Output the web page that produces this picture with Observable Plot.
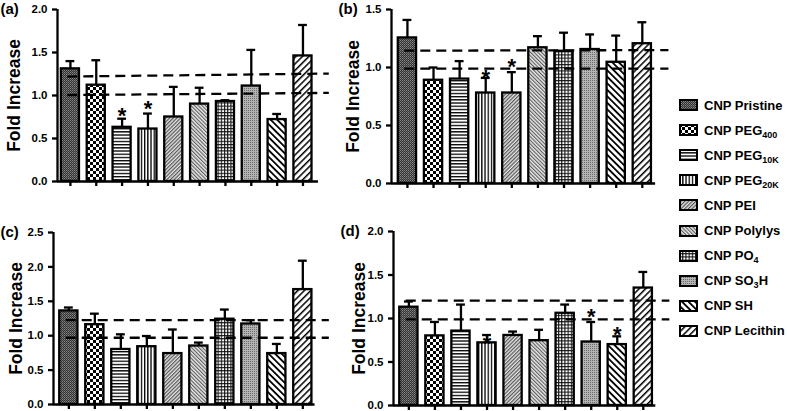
<!DOCTYPE html>
<html><head><meta charset="utf-8">
<script src="https://cdn.jsdelivr.net/npm/d3@7"></script>
<script src="https://cdn.jsdelivr.net/npm/@observablehq/plot@0.6"></script>
<style>
body{margin:0;background:#fff;}
#root{position:relative;width:787px;height:411px;overflow:hidden;font-family:"Liberation Sans",Arial,sans-serif;font-weight:bold;color:#000;}
#root svg.panel{position:absolute;overflow:visible;}
.leg{position:absolute;left:679px;height:16px;display:flex;align-items:center;font-size:13px;white-space:nowrap;}
.leg svg{margin-right:6px;flex:none;}
.leg sub{font-size:9px;vertical-align:-3px;line-height:0;}
</style></head>
<body><div id="root"></div>
<script>
// ---------- data ----------
const names = ["CNP Pristine","CNP PEG<sub>400</sub>","CNP PEG<sub>10K</sub>","CNP PEG<sub>20K</sub>","CNP PEI","CNP Polylys","CNP PO<sub>4</sub>","CNP SO<sub>3</sub>H","CNP SH","CNP Lecithin"];
const panelLabels = ["(a)","(b)","(c)","(d)"];
const yLabel = "Fold Increase";

const aVals = [1.31,1.12,0.63,0.61,0.75,0.90,0.93,1.11,0.72,1.46];
const aErr  = [1.40,1.41,0.73,0.79,1.10,1.09,0.945,1.53,0.785,1.82];
const aDash = [{y1:1.22,y2:1.255},{y1:1.005,y2:1.03}];
const aStars = [{bar:3,y:0.83},{bar:4,y:0.91}];
const aTicks = [0,0.5,1.0,1.5,2.0];

const bVals = [1.255,0.89,0.90,0.78,0.78,1.17,1.14,1.155,1.045,1.205];
const bErr  = [1.41,1.00,1.055,0.91,0.96,1.27,1.30,1.285,1.275,1.39];
const bDash = [{y1:1.145,y2:1.15},{y1:0.99,y2:0.99}];
const bStars = [{bar:4,y:0.96},{bar:5,y:1.06}];
const bTicks = [0,0.5,1.0,1.5];

const cVals = [1.36,1.16,0.80,0.84,0.74,0.85,1.24,1.17,0.74,1.67];
const cErr  = [1.41,1.32,1.02,0.995,1.09,0.90,1.38,1.225,0.88,2.09];
const cDash = [{y1:1.225,y2:1.225},{y1:0.97,y2:0.97}];
const cStars = [];
const cTicks = [0,0.5,1.0,1.5,2.0,2.5];

const dVals = [1.13,0.80,0.855,0.72,0.805,0.745,1.06,0.73,0.70,1.35];
const dErr  = [1.195,0.96,1.16,0.81,0.85,0.87,1.16,0.96,0.795,1.535];
const dDash = [{y1:1.205,y2:1.205},{y1:0.99,y2:0.99}];
const dStars = [{bar:4,y:0.78},{bar:8,y:1.09},{bar:9,y:0.88}];
const dTicks = [0,0.5,1.0,1.5,2.0];

// ---------- patterns ----------
const FONT = '"Liberation Sans", Arial, sans-serif';
const SW = 2.3;
const defs = `
<svg width="0" height="0" style="position:absolute"><defs>
<pattern id="p1" patternUnits="userSpaceOnUse" width="2" height="2"><rect width="2" height="2" fill="#333"/><rect width="1" height="1" fill="#888"/><rect x="1" y="1" width="1" height="1" fill="#666"/></pattern>
<pattern id="p2" patternUnits="userSpaceOnUse" width="6" height="6"><rect width="6" height="6" fill="#fff"/><rect width="3" height="3" fill="#000"/><rect x="3" y="3" width="3" height="3" fill="#000"/></pattern>
<pattern id="p3" patternUnits="userSpaceOnUse" width="4" height="3.2"><rect width="4" height="3.2" fill="#fff"/><rect width="4" height="1.3" fill="#000"/></pattern>
<pattern id="p4" patternUnits="userSpaceOnUse" width="3.2" height="4"><rect width="3.2" height="4" fill="#fff"/><rect width="1.3" height="4" fill="#000"/></pattern>
<pattern id="p5" patternUnits="userSpaceOnUse" width="2.6" height="4" patternTransform="rotate(45)"><rect width="2.6" height="4" fill="#e4e4e4"/><rect width="1.2" height="4" fill="#555"/></pattern>
<pattern id="p6" patternUnits="userSpaceOnUse" width="2.6" height="4" patternTransform="rotate(-45)"><rect width="2.6" height="4" fill="#e8e8e8"/><rect width="1.1" height="4" fill="#5c5c5c"/></pattern>
<pattern id="p7" patternUnits="userSpaceOnUse" width="3.2" height="3.2"><rect width="3.2" height="3.2" fill="#fff"/><rect width="1.1" height="3.2" fill="#111"/><rect width="3.2" height="1.1" fill="#111"/></pattern>
<pattern id="p8" patternUnits="userSpaceOnUse" width="2" height="2"><rect width="2" height="2" fill="#b4b4b4"/><rect width="1" height="1" fill="#6a6a6a"/></pattern>
<pattern id="p9" patternUnits="userSpaceOnUse" width="4.6" height="6" patternTransform="rotate(-45)"><rect width="4.6" height="6" fill="#fff"/><rect width="1.8" height="6" fill="#000"/></pattern>
<pattern id="p10" patternUnits="userSpaceOnUse" width="4.6" height="6" patternTransform="rotate(45)"><rect width="4.6" height="6" fill="#fff"/><rect width="1.5" height="6" fill="#000"/></pattern>
</defs></svg>`;
const root = document.getElementById("root");
root.insertAdjacentHTML("beforeend", defs);

// ---------- panels ----------
function panel(o) {
  const data = o.vals.map((v, k) => ({i: k + 1, v, hi: o.err[k]}));
  const plotW = (o.xd[1] - o.xd[0]) * o.step;
  const svg = Plot.plot({
    width: o.ml + plotW + 16,
    height: o.mt + o.ph + 12,
    marginLeft: o.ml, marginTop: o.mt, marginRight: 16, marginBottom: 12,
    x: {domain: o.xd, axis: null},
    y: {domain: [0, o.ticks[o.ticks.length - 1]], axis: null},
    color: {type: "identity"},
    style: {fontFamily: FONT, fontWeight: "bold", fontSize: "11px", background: "transparent", overflow: "visible", color: "#000"},
    marks: [
      Plot.rect(data, {x1: d => d.i - 0.35, x2: d => d.i + 0.35, y1: 0, y2: "v", fill: d => `url(#p${d.i})`, stroke: "#000", strokeWidth: SW}),
      Plot.ruleX(data, {x: "i", y1: "v", y2: "hi", stroke: "#000", strokeWidth: SW}),
      Plot.ruleY(data, {y: "hi", x1: d => d.i - 0.17, x2: d => d.i + 0.17, stroke: "#000", strokeWidth: SW}),
      Plot.link(o.dash, {x1: () => 0.88, x2: () => 11.0, y1: "y1", y2: "y2", stroke: "#000", strokeWidth: SW, strokeDasharray: "10,6"}),
      Plot.text(o.stars, {x: "bar", y: "y", text: () => "*", fontSize: 22, fontWeight: "bold", dy: 6}),
      Plot.axisY({ticks: o.ticks, tickFormat: d3.format(".1f"), tickSize: 5, tickPadding: 5, strokeWidth: SW, label: null, fontWeight: "bold", fontSize: 11.5}),
      Plot.axisX({ticks: d3.range(1, 11), tickFormat: () => "", tickSize: 5, strokeWidth: SW, label: null}),
      Plot.ruleX([o.xd[0]], {stroke: "#000", strokeWidth: SW}),
      Plot.ruleY([0], {stroke: "#000", strokeWidth: SW}),
      Plot.text([yLabel], {frameAnchor: "left", textAnchor: "middle", lineAnchor: "middle", rotate: -90, dx: o.ylx, fontSize: 17.5, fontWeight: "bold"}),
      Plot.text([o.label], {frameAnchor: "top-left", dx: o.plx, textAnchor: "start", lineAnchor: "middle", fontSize: 15, fontWeight: "bold"})
    ]
  });
  svg.classList.add("panel");
  svg.style.left = o.left + "px";
  svg.style.top = o.top + "px";
  root.appendChild(svg);
}

panel({label: panelLabels[0], vals: aVals, err: aErr, dash: aDash, stars: aStars, ticks: aTicks,
  left: 0, top: 0, ml: 57, mt: 9, ph: 172, xd: [0.5, 10.6], step: 25.84, ylx: -43, plx: -57});
panel({label: panelLabels[1], vals: bVals, err: bErr, dash: bDash, stars: bStars, ticks: bTicks,
  left: 334, top: 0, ml: 57, mt: 9, ph: 174, xd: [0.39, 10.51], step: 26.1, ylx: -38, plx: -53});
panel({label: panelLabels[2], vals: cVals, err: cErr, dash: cDash, stars: cStars, ticks: cTicks,
  left: 0, top: 223, ml: 53, mt: 9, ph: 172, xd: [0.41, 10.47], step: 26.0, ylx: -37, plx: -53});
panel({label: panelLabels[3], vals: dVals, err: dErr, dash: dDash, stars: dStars, ticks: dTicks,
  left: 334, top: 222, ml: 59, mt: 9, ph: 174, xd: [0.41, 10.48], step: 26.05, ylx: -34, plx: -53});

// ---------- legend ----------
names.forEach((n, k) => {
  const div = document.createElement("div");
  div.className = "leg";
  div.style.top = (105 + k * 25.1 - 8) + "px";
  div.innerHTML = `<svg width="19" height="12"><rect x="1" y="1" width="17" height="10" fill="url(#p${k + 1})" stroke="#000" stroke-width="2"/></svg><span>${n}</span>`;
  root.appendChild(div);
});
</script>
</body></html>
